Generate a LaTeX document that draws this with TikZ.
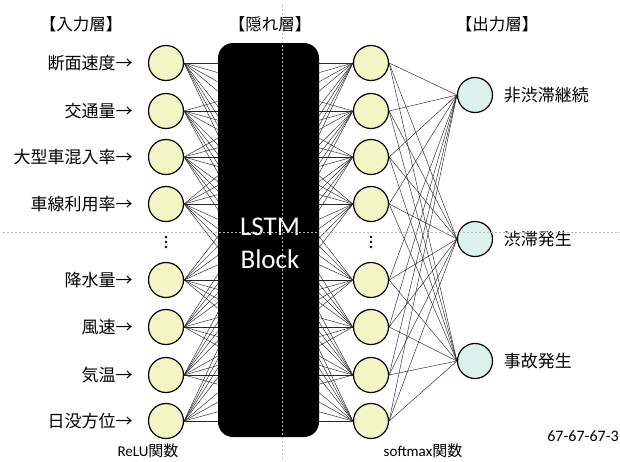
\documentclass[tikz,border=0pt]{standalone}
\usepackage{fontspec}
\setmainfont{Carlito}
\newfontfamily\jpfont{Noto Sans CJK JP}
\usetikzlibrary{positioning}

\definecolor{unitfill}{RGB}{242,246,196}
\definecolor{outfill}{RGB}{219,242,236}
\definecolor{guidegray}{RGB}{185,185,185}

\tikzset{
    unit/.style={circle, draw=black, line width=1.2pt, fill=unitfill,
        minimum size=35pt, inner sep=0pt},
    outunit/.style={unit, fill=outfill},
    link/.style={line width=0.45pt, draw=black!85},
    inlabel/.style={font=\jpfont\fontsize{17}{20}\selectfont, inner sep=0pt},
    layertitle/.style={font=\jpfont\fontsize{16.5}{20}\selectfont, inner sep=0pt},
    funclabel/.style={font=\fontsize{15}{18}\selectfont, inner sep=0pt},
    guideline/.style={guidegray, line width=0.6pt, dash pattern=on 2pt off 2pt},
}

\begin{document}
\begin{tikzpicture}[x=1pt, y=-1pt, node distance=15pt]
        \useasboundingbox (0,0) rectangle (620,461);

        % units
        \foreach \i/\y in {1/63,2/111,3/157,4/204,5/280,6/327,7/375,8/421} {
            \node[unit] (in\i) at (166,\y) {};
            \node[unit] (hd\i) at (371,\y) {};
        }
        \foreach \k/\y in {1/95,2/239,3/361}
            \node[outunit] (out\k) at (475,\y) {};

        % links
        \foreach \i in {1,...,8} {
            \foreach \j in {1,...,8}
                \draw[link] (in\i.east) -- (hd\j.west);
            \foreach \k in {1,2,3}
                \draw[link] (hd\i.east) -- (out\k.west);
        }

        % hidden block
        \node[fill=black, rounded corners=15pt, minimum width=101pt,
            minimum height=394pt, inner sep=0pt] (lstm) at (268.5,240) {};
        \node[text=white, align=center, font=\fontsize{27}{33}\selectfont]
            (lstmtext) at (270,243) {LSTM\\Block};

        % dots
        \foreach \x in {166,371}
            \foreach \y in {237,242,247}
                \fill (\x,\y) circle (1.4pt);

        % labels
        \foreach \i/\t in {1/断面速度→,2/交通量→,3/大型車混入率→,4/車線利用率→,
            5/降水量→,6/風速→,7/気温→,8/日没方位→}
            \node[inlabel, left=of in\i] (lab\i) {\t};
        \foreach \k/\t in {1/非渋滞継続,2/渋滞発生,3/事故発生}
            \node[inlabel, right=10.5pt of out\k] (olab\k) {\t};

        \node[layertitle] (tin) at (81,24) {【入力層】};
        \node[layertitle] (thd) at (270,24) {【隠れ層】};
        \node[layertitle] (tout) at (497,24) {【出力層】};

        \node[funclabel] (relu) at (148,451) {ReLU{\jpfont 関数}};
        \node[funclabel] (soft) at (423,451) {softmax{\jpfont 関数}};
        \node[funclabel, anchor=east, font=\fontsize{16}{18}\selectfont]
            (figid) at (619,436) {67-67-67-3};

        % guides
        \draw[guideline] (3,232) -- (620,232);
        \draw[guideline] (282,5) -- (282,461);
\end{tikzpicture}
\end{document}
